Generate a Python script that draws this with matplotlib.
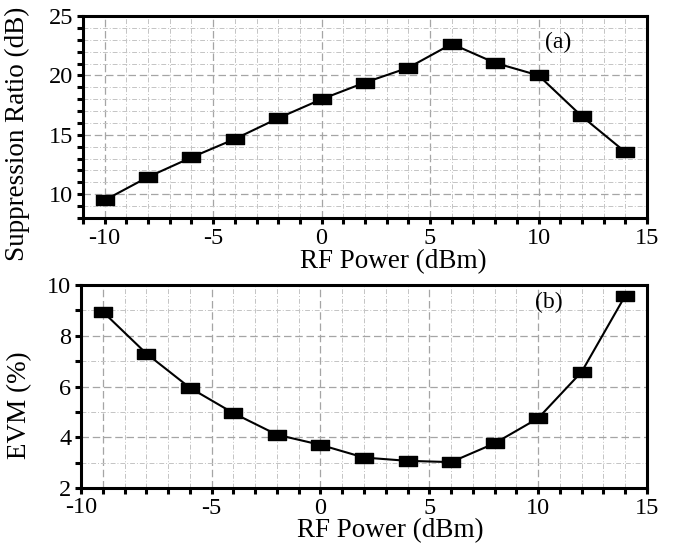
import numpy as np
import matplotlib
matplotlib.use("Agg")
import matplotlib.pyplot as plt
from matplotlib.ticker import MultipleLocator
from matplotlib.path import Path

plt.rcParams['font.family'] = ['Liberation Serif', 'DejaVu Serif']
plt.rcParams['axes.unicode_minus'] = False

# data
rf_power = [-10, -8, -6, -4, -2, 0, 2, 4, 6, 8, 10, 12, 14]
suppression = [9.5, 11.45, 13.1, 14.65, 16.4, 18.0, 19.4, 20.65, 22.65, 21.05, 20.0, 16.55, 13.55]
evm = [8.95, 7.3, 5.95, 4.95, 4.1, 3.7, 3.2, 3.07, 3.02, 3.76, 4.75, 6.58, 9.58]

xticks = [-10, -5, 0, 5, 10, 15]
xlabel = 'RF Power (dBm)'

# flat black rectangle marker
rect = Path([(-1, -0.55), (1, -0.55), (1, 0.55), (-1, 0.55), (-1, -0.55)],
            [Path.MOVETO, Path.LINETO, Path.LINETO, Path.LINETO, Path.CLOSEPOLY])

fig = plt.figure(figsize=(6.78, 5.48), dpi=100)
ax1 = fig.add_axes([0.1224, 0.6022, 0.8319, 0.3686])
ax2 = fig.add_axes([0.1195, 0.1095, 0.8348, 0.3704])


def style(ax):
    ax.set_xlim(-11, 15)
    ax.xaxis.set_major_locator(MultipleLocator(5))
    ax.xaxis.set_minor_locator(MultipleLocator(1))
    ax.yaxis.set_minor_locator(MultipleLocator(1))
    for s in ax.spines.values():
        s.set_linewidth(2.2)
    ax.tick_params(which='both', direction='out', length=4, width=2.2,
                   top=False, right=False, labelsize=17.5)
    ax.tick_params(axis='x', which='both', pad=3)
    ax.tick_params(axis='y', which='both', pad=3)
    ax.grid(which='major', color='#a5a5a5', linestyle=(0, (6, 3)), linewidth=0.9)
    ax.grid(which='minor', color='#c4c4c4', linestyle=(0, (5, 2, 1, 2)), linewidth=0.7)
    ax.set_axisbelow(True)


style(ax1)
ax1.plot(rf_power, suppression, color='black', lw=1.5, marker=rect,
         markersize=13, markerfacecolor='black', markeredgecolor='black')
ax1.set_ylim(8, 25)
ax1.yaxis.set_major_locator(MultipleLocator(5))
ax1.set_xticks(xticks)
ax1.set_ylabel('Suppression Ratio (dB)', fontsize=19.5)
ax1.yaxis.set_label_coords(-0.094, 0.418)
ax1.set_xlabel(xlabel, fontsize=19.5)
ax1.xaxis.set_label_coords(0.55, -0.155)
ax1.text(10.9, 22.8, '(a)', fontsize=17, ha='center', va='center')

style(ax2)
ax2.plot(rf_power, evm, color='black', lw=1.5, marker=rect,
         markersize=13, markerfacecolor='black', markeredgecolor='black')
ax2.set_ylim(2, 10)
ax2.yaxis.set_major_locator(MultipleLocator(2))
ax2.set_xticks(xticks)
# the "-10" label sits at the left spine in the original
ax2.set_xticklabels([''] + [str(t) for t in xticks[1:]])
ax2.text(-11, -0.045, '-10', fontsize=17.5, ha='center', va='top',
         transform=ax2.get_xaxis_transform())
ax2.set_ylabel('EVM (%)', fontsize=19.5)
ax2.yaxis.set_label_coords(-0.087, 0.41)
ax2.set_xlabel(xlabel, fontsize=19.5)
ax2.xaxis.set_label_coords(0.546, -0.15)
ax2.text(10.5, 9.3, '(b)', fontsize=17, ha='center', va='center')

fig.savefig('out.png', dpi=100)
